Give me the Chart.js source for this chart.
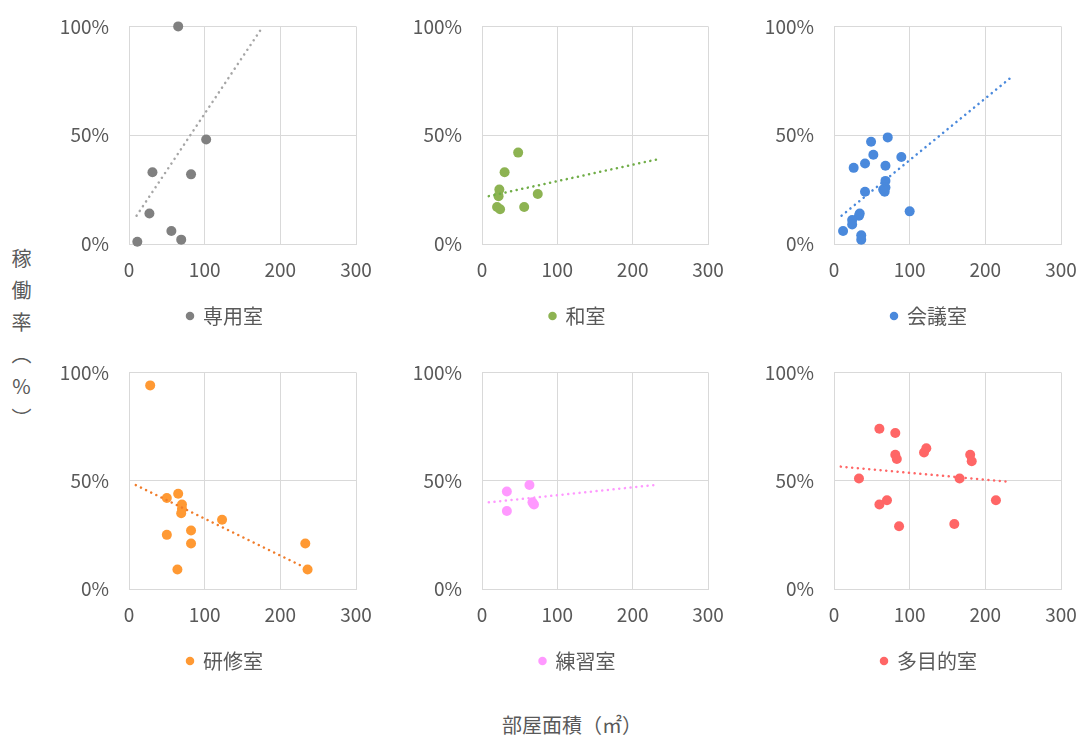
<!DOCTYPE html>
<html>
<head>
<meta charset="utf-8">
<script src="https://cdn.jsdelivr.net/npm/chart.js@4"></script>
<style>
    body { margin: 0; background: #fff; width: 1079px; height: 735px; position: relative; overflow: hidden; font-family: "Noto Sans CJK JP", sans-serif; }
    canvas { position: absolute; }
    .ytitle { position: absolute; left: 11px; top: 248px; width: 20px; writing-mode: vertical-rl; text-orientation: upright; letter-spacing: 12px; font-size: 20px; line-height: 20px; color: #595959; }
    .xtitle { position: absolute; left: 0; width: 1144px; top: 711px; line-height: 28px; text-align: center; font-size: 20px; color: #595959; }
</style>
</head>
<body>
<canvas id="c_senyo"></canvas>
<canvas id="c_washitsu"></canvas>
<canvas id="c_kaigi"></canvas>
<canvas id="c_kenshu"></canvas>
<canvas id="c_renshu"></canvas>
<canvas id="c_tamokuteki"></canvas>
<div class="ytitle">稼働率（%）</div>
<div class="xtitle">部屋面積（㎡）</div>
<script>
// values: area in m2, rate in %
const senyoArea = [65, 102, 31, 82, 27, 56, 69, 11];
const senyoRate = [100, 48, 33, 32, 14, 6, 2, 1];
const senyoTrend = [[10, 13], [177, 100]];

const washitsuArea = [48, 30, 23, 22, 74, 20, 24, 56];
const washitsuRate = [42, 33, 25, 22, 23, 17, 16, 17];
const washitsuTrend = [[9, 22], [234, 39]];

const kaigiArea = [71, 49, 52, 89, 26, 41, 68, 68, 68, 65, 67, 41, 100, 34, 33, 24, 24, 12, 36, 36];
const kaigiRate = [49, 47, 41, 40, 35, 37, 36, 29, 26, 25, 24, 24, 15, 14, 13, 11, 9, 6, 4, 2];
const kaigiTrend = [[10, 13], [232, 76]];

const kenshuArea = [28, 65, 50, 70, 70, 69, 123, 82, 50, 82, 233, 64, 236];
const kenshuRate = [94, 44, 42, 39, 37, 35, 32, 27, 25, 21, 21, 9, 9];
const kenshuTrend = [[9, 48], [232, 10]];

const renshuArea = [63, 33, 67, 69, 33];
const renshuRate = [48, 45, 40, 39, 36];
const renshuTrend = [[9, 40], [229, 48]];

const tamokutekiArea = [60, 81, 122, 119, 81, 83, 180, 182, 33, 166, 70, 60, 214, 86, 159];
const tamokutekiRate = [74, 72, 65, 63, 62, 60, 62, 59, 51, 51, 41, 39, 41, 29, 30];
const tamokutekiTrend = [[9, 56.5], [231, 49.5]];

const xTicks = [0, 100, 200, 300];
const yTicks = [0, 50, 100];

const FONT = '"Noto Sans CJK JP", sans-serif';
const TEXT = '#595959';
const GRID = '#d9d9d9';

// panel grid: plot area edges and canvas edges in page pixels
// (canvas right is picked so the legend, centred on the canvas, lands where the original has it)
const cols = [
    { left: 56, plotLeft: 129, plotRight: 356, right: 394 },
    { left: 410, plotLeft: 482, plotRight: 708, right: 745 },
    { left: 762, plotLeft: 834, plotRight: 1061, right: 1096 },
];
const rows = [
    { plotTop: 25, plotBottom: 244 },
    { plotTop: 371, plotBottom: 589 },
];
const PAD_TOP = 15;
const TOP_OFF = 30; // chart.js ends up with the plot this far below the canvas top
const X_AXIS_H = 52;
const LEGEND_H = 40;

const makeChart = (id, col, row, label, area, rate, trend, pointColor, trendColor) => {
    const c = cols[col];
    const r = rows[row];
    const canvas = document.getElementById(id);
    const w = c.right - c.left;
    const h = TOP_OFF + (r.plotBottom - r.plotTop) + X_AXIS_H + LEGEND_H;
    canvas.width = w;
    canvas.height = h;
    canvas.style.left = c.left + 'px';
    canvas.style.top = (r.plotTop - TOP_OFF) + 'px';

    return new Chart(canvas, {
        type: 'scatter',
        data: {
            datasets: [
                {
                    label: 'trend',
                    type: 'line',
                    data: trend.map((p) => ({ x: p[0], y: p[1] })),
                    borderColor: trendColor,
                    borderWidth: 2.5,
                    borderDash: [0.1, 5.6],
                    borderCapStyle: 'round',
                    pointRadius: 0,
                    fill: false,
                },
                {
                    label: label,
                    data: area.map((x, i) => ({ x: x, y: rate[i] })),
                    backgroundColor: pointColor,
                    borderColor: pointColor,
                    borderWidth: 0,
                    pointRadius: 5,
                    clip: 8,
                },
            ]
        },
        options: {
            responsive: false,
            animation: false,
            layout: {
                padding: { top: PAD_TOP, right: 0, left: 0, bottom: 0 }
            },
            plugins: {
                tooltip: { enabled: false },
                legend: {
                    position: 'bottom',
                    labels: {
                        filter: (item) => item.text !== 'trend',
                        usePointStyle: true,
                        pointStyle: 'circle',
                        boxWidth: 6,
                        boxHeight: 6,
                        padding: 10,
                        color: TEXT,
                        font: { family: FONT, size: 20 },
                    }
                }
            },
            scales: {
                x: {
                    type: 'linear',
                    min: 0,
                    max: 300,
                    afterBuildTicks: (s) => { s.ticks = xTicks.map((v) => ({ value: v })); },
                    afterFit: (s) => {
                        s.height = X_AXIS_H;
                        s.paddingRight = c.right - c.plotRight; // room on the right only for the plot, not the legend
                    },
                    grid: { color: GRID, drawTicks: false },
                    border: { color: GRID },
                    ticks: { padding: 14, color: TEXT, font: { family: FONT, size: 19 } },
                },
                y: {
                    type: 'linear',
                    min: 0,
                    max: 100,
                    afterBuildTicks: (s) => { s.ticks = yTicks.map((v) => ({ value: v })); },
                    afterFit: (s) => { s.width = c.plotLeft - c.left; },
                    grid: { color: GRID, drawTicks: false },
                    border: { color: GRID },
                    ticks: {
                        padding: 20,
                        color: TEXT,
                        font: { family: FONT, size: 19 },
                        callback: (v) => v + '%',
                    },
                },
            }
        }
    });
};

makeChart('c_senyo', 0, 0, '専用室', senyoArea, senyoRate, senyoTrend, '#808080', '#a6a6a6');
makeChart('c_washitsu', 1, 0, '和室', washitsuArea, washitsuRate, washitsuTrend, '#8db352', '#70ad47');
makeChart('c_kaigi', 2, 0, '会議室', kaigiArea, kaigiRate, kaigiTrend, '#4a89dc', '#4a89dc');
makeChart('c_kenshu', 0, 1, '研修室', kenshuArea, kenshuRate, kenshuTrend, '#ff9933', '#f07c2a');
makeChart('c_renshu', 1, 1, '練習室', renshuArea, renshuRate, renshuTrend, '#ff99ff', '#ff99ff');
makeChart('c_tamokuteki', 2, 1, '多目的室', tamokutekiArea, tamokutekiRate, tamokutekiTrend, '#ff6666', '#ff6666');
</script>
</body>
</html>
